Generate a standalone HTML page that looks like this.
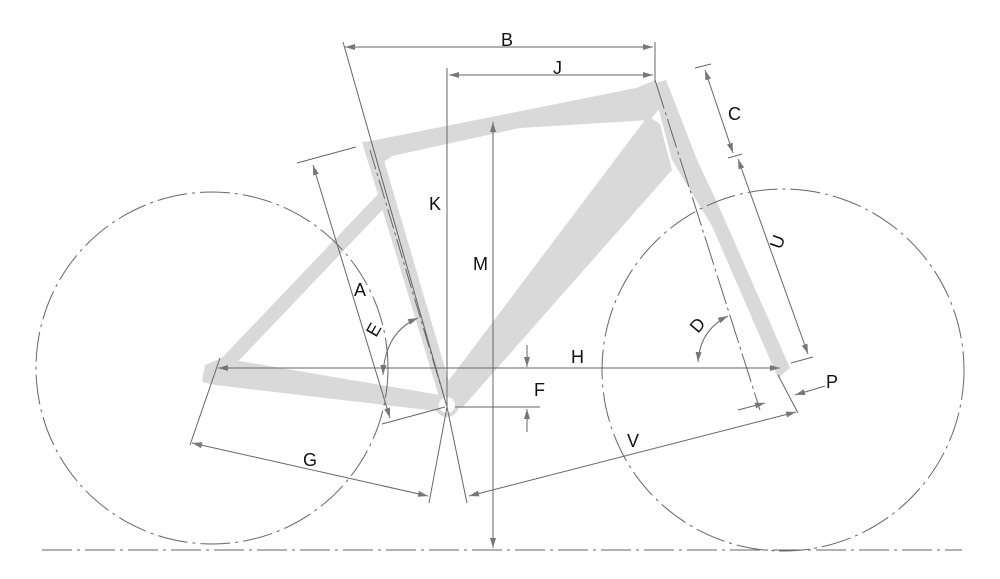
<!DOCTYPE html>
<html><head><meta charset="utf-8"><style>
html,body{margin:0;padding:0;background:#fff;}
svg{display:block}
text{font-family:"Liberation Sans",sans-serif;font-size:18px;fill:#111}
</style></head><body>
<svg width="1000" height="579" viewBox="0 0 1000 579" xmlns="http://www.w3.org/2000/svg">
<defs>
<marker id="a" viewBox="0 0 10 6" refX="10" refY="3" markerWidth="12" markerHeight="6" markerUnits="userSpaceOnUse" orient="auto-start-reverse"><path d="M0,0L10,3L0,6z" fill="#777"/></marker>
</defs>
<!-- frame -->
<g fill="#d9d9d9" stroke="none">
<path d="M362,142 L378,140 L452,392 L440,400 Z"/>
<path d="M366,142 L636,88 L656,80 L660,108 L650,120 L520,128 L392,156 L380,165 L375,162 Z"/>
<path d="M440,392 L648,116 L660,124 L672,170 L462,408 Z"/>
<path d="M652,84 L666,80 L698,162 L716,200 L790,368 L778,378 L712,226 L690,190 L672,160 Z"/>
<path d="M205,365 L222,358 L440,395 L445,412 L215,385 L202,382 Z"/>
<path d="M218,362 L380,192 L390,202 L228,372 Z"/>
<circle cx="447" cy="405" r="12"/>
</g>
<circle cx="447" cy="405" r="8" fill="#fff"/>
<g fill="none" stroke="#666" stroke-width="1">
<circle cx="212" cy="368" r="176" stroke-dasharray="30,5,3,5"/>
<circle cx="783" cy="370" r="181" stroke-dasharray="30,5,3,5"/>
<line x1="42" y1="550" x2="962" y2="550" stroke-dasharray="30,5,3,5"/>
<line x1="343" y1="42" x2="447" y2="407"/>
<line x1="370" y1="150" x2="445" y2="400" stroke-dasharray="20,4,3,4"/>
<line x1="655" y1="80" x2="760" y2="410" stroke-dasharray="30,4,3,4"/>
<line x1="655" y1="42" x2="655" y2="82"/>
<line x1="447" y1="68" x2="447" y2="407"/>
<line x1="345" y1="47" x2="653" y2="47" marker-start="url(#a)" marker-end="url(#a)"/>
<line x1="449" y1="75" x2="653" y2="75" marker-start="url(#a)" marker-end="url(#a)"/>
<line x1="493" y1="122" x2="493" y2="548" marker-start="url(#a)" marker-end="url(#a)"/>
<line x1="297" y1="163" x2="356" y2="147"/>
<line x1="382" y1="424" x2="445" y2="407"/>
<line x1="313" y1="165" x2="390" y2="418" marker-start="url(#a)" marker-end="url(#a)"/>
<path d="M383,375 Q385,332 418,318" marker-start="url(#a)" marker-end="url(#a)"/>
<line x1="218" y1="368" x2="780" y2="368" marker-start="url(#a)" marker-end="url(#a)"/>
<line x1="455" y1="407" x2="540" y2="407"/>
<line x1="527" y1="345" x2="527" y2="367" marker-end="url(#a)"/>
<line x1="527" y1="432" x2="527" y2="409" marker-end="url(#a)"/>
<line x1="220" y1="358" x2="190" y2="445"/>
<line x1="447" y1="407" x2="429" y2="503"/>
<line x1="192" y1="443" x2="428" y2="496" marker-start="url(#a)" marker-end="url(#a)"/>
<line x1="447" y1="407" x2="467" y2="503"/>
<line x1="469" y1="496" x2="796" y2="412" marker-start="url(#a)" marker-end="url(#a)"/>
<line x1="778" y1="375" x2="798" y2="413"/>
<line x1="738" y1="410" x2="765" y2="403" marker-end="url(#a)"/>
<line x1="825" y1="386" x2="795" y2="395" marker-end="url(#a)"/>
<line x1="695" y1="68" x2="711" y2="64"/>
<line x1="728" y1="158" x2="742" y2="154"/>
<line x1="791" y1="363" x2="813" y2="357"/>
<line x1="705" y1="70" x2="733" y2="153" marker-start="url(#a)" marker-end="url(#a)"/>
<line x1="738" y1="159" x2="808" y2="354" marker-start="url(#a)" marker-end="url(#a)"/>
<path d="M698,362 Q700,330 728,316" marker-start="url(#a)" marker-end="url(#a)"/>
</g>
<text x="501" y="46">B</text>
<text x="553" y="74">J</text>
<text x="429" y="210">K</text>
<text x="473" y="270">M</text>
<text x="354" y="296">A</text>
<text x="0" y="0" transform="translate(376,338) rotate(-60)">E</text>
<text x="571" y="363">H</text>
<text x="534" y="396">F</text>
<text x="303" y="466">G</text>
<text x="627" y="447">V</text>
<text x="728" y="120">C</text>
<text x="0" y="0" transform="translate(781,250) rotate(-70)">U</text>
<text x="0" y="0" transform="translate(698,334) rotate(-50)">D</text>
<text x="826" y="388">P</text>
</svg>
</body></html>
